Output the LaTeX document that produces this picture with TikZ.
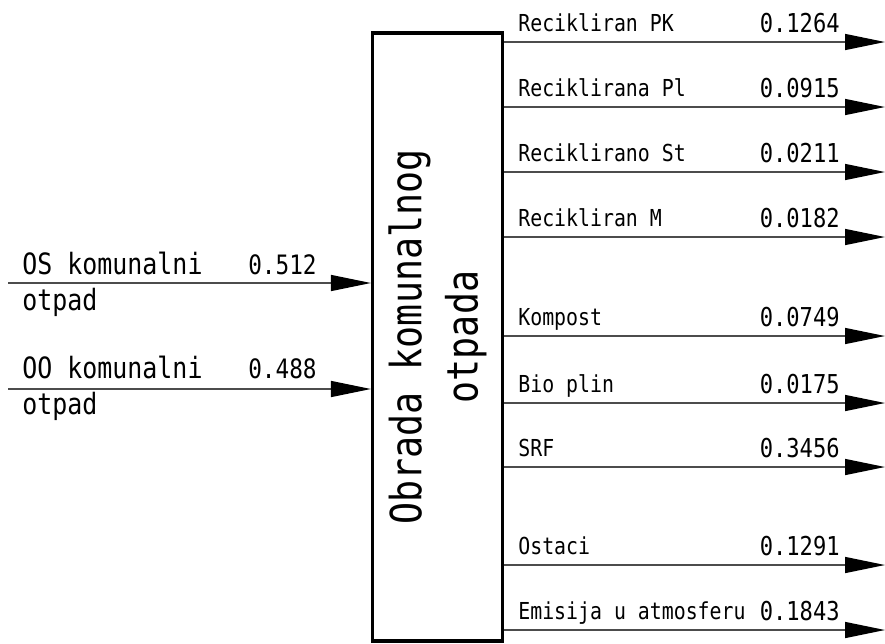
\documentclass[tikz,border=0pt]{standalone}
\usepackage{fontspec}
\newfontfamily\isofont[FakeStretch=0.85]{DejaVu Sans Mono}
\usetikzlibrary{arrows.meta}
\tikzset{
  flow/.style={draw=black!70, line width=0.8pt, -{Triangle[length=0.8cm,width=0.32cm,color=black]}},
  outlbl/.style={anchor=base west, inner sep=0pt, font=\isofont\fontsize{13.3}{15}\selectfont},
  outval/.style={anchor=base east, inner sep=0pt, font=\isofont\fontsize{14.8}{17}\selectfont},
  inlbl/.style={anchor=base west, inner sep=0pt, font=\isofont\fontsize{16.7}{19}\selectfont},
  inval/.style={anchor=base east, inner sep=0pt, font=\isofont\fontsize{15.2}{18}\selectfont},
}
\begin{document}
\begin{tikzpicture}[x=0.02cm,y=-0.02cm]
\useasboundingbox (0,0) rectangle (885,643);
% process box
\node[draw, line width=1.8pt, minimum width=2.6cm, minimum height=12.16cm, inner sep=0pt] (obrada) at (437.5,337) {};
\node[rotate=90, align=center, inner sep=0pt, font=\isofont\fontsize{24.5}{32}\selectfont] (obradatxt) at (obrada.center) {Obrada komunalnog\\otpada};
% inputs
\coordinate (osin) at (8,283);
\coordinate (ooin) at (8,389);
\draw[flow] (osin) -- (osin -| obrada.west);
\draw[flow] (ooin) -- (ooin -| obrada.west);
\node[inlbl] (oslbl) at (22,274) {OS komunalni};
\node[inlbl] (osotpad) at (22,310) {otpad};
\node[inval] (osval) at (317,274) {0.512};
\node[inlbl] (oolbl) at (22,378) {OO komunalni};
\node[inlbl] (oootpad) at (22,414) {otpad};
\node[inval] (ooval) at (317,378) {0.488};
% outputs
\coordinate (pkout) at (885,42);
\coordinate (plout) at (885,107);
\coordinate (stout) at (885,172);
\coordinate (mout) at (885,237);
\coordinate (kompout) at (885,336);
\coordinate (bioout) at (885,403);
\coordinate (srfout) at (885,467);
\coordinate (ostout) at (885,565);
\coordinate (emout) at (885,630);
\draw[flow] (obrada.east |- pkout) -- (pkout);
\draw[flow] (obrada.east |- plout) -- (plout);
\draw[flow] (obrada.east |- stout) -- (stout);
\draw[flow] (obrada.east |- mout) -- (mout);
\draw[flow] (obrada.east |- kompout) -- (kompout);
\draw[flow] (obrada.east |- bioout) -- (bioout);
\draw[flow] (obrada.east |- srfout) -- (srfout);
\draw[flow] (obrada.east |- ostout) -- (ostout);
\draw[flow] (obrada.east |- emout) -- (emout);
\node[outlbl] (pklbl) at (518,31) {Recikliran PK};
\node[outval] (pkval) at (840,32) {0.1264};
\node[outlbl] (pllbl) at (518,96) {Reciklirana Pl};
\node[outval] (plval) at (840,97) {0.0915};
\node[outlbl] (stlbl) at (518,161) {Reciklirano St};
\node[outval] (stval) at (840,162) {0.0211};
\node[outlbl] (mlbl) at (518,226) {Recikliran M};
\node[outval] (mval) at (840,227) {0.0182};
\node[outlbl] (komplbl) at (518,325) {Kompost};
\node[outval] (kompval) at (840,326) {0.0749};
\node[outlbl] (biolbl) at (518,392) {Bio plin};
\node[outval] (bioval) at (840,393) {0.0175};
\node[outlbl] (srflbl) at (518,456) {SRF};
\node[outval] (srfval) at (840,457) {0.3456};
\node[outlbl] (ostlbl) at (518,554) {Ostaci};
\node[outval] (ostval) at (840,555) {0.1291};
\node[outlbl] (emlbl) at (518,619) {Emisija u atmosferu};
\node[outval] (emval) at (840,620) {0.1843};
\end{tikzpicture}
\end{document}
